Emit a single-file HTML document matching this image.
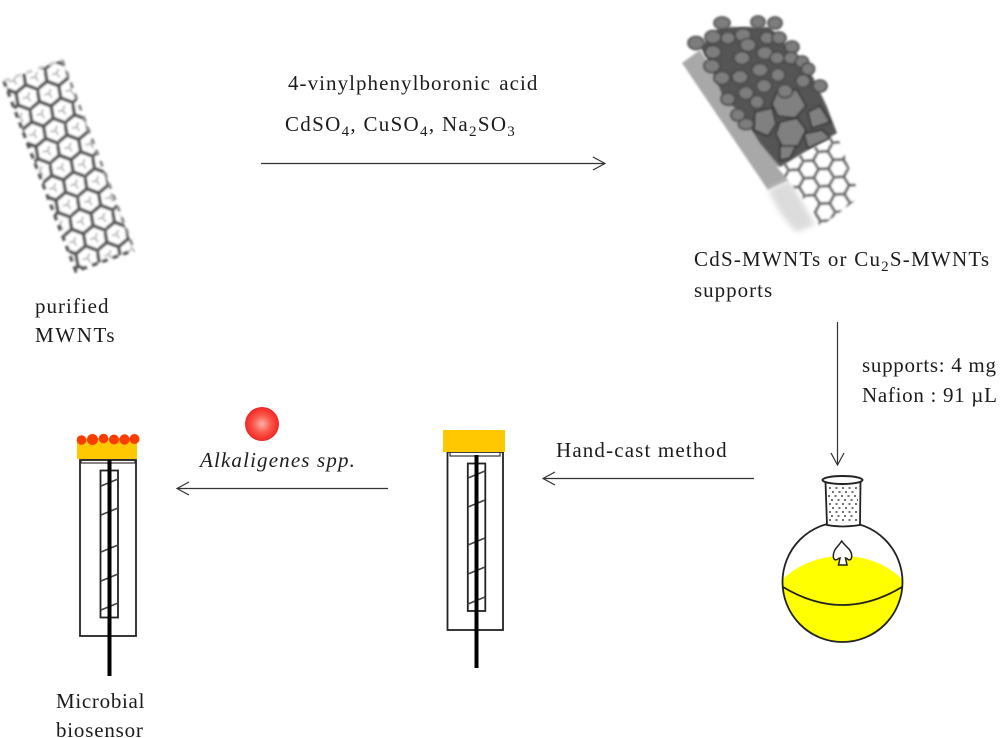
<!DOCTYPE html>
<html><head><meta charset="utf-8"><style>
html,body{margin:0;padding:0;background:#fff;width:1000px;height:738px;overflow:hidden}
svg{display:block}
text{font-family:"Liberation Serif",serif;font-size:21px;fill:#1c1c1c;letter-spacing:1.15px}
</style></head><body>
<svg width="1000" height="738" viewBox="0 0 1000 738" xmlns="http://www.w3.org/2000/svg">
<defs>
<filter id="b1" x="-10%" y="-10%" width="120%" height="120%"><feGaussianBlur stdDeviation="1"/></filter>
<filter id="b2" x="-30%" y="-30%" width="160%" height="160%"><feGaussianBlur stdDeviation="3"/></filter>
<clipPath id="fl"><circle cx="842.5" cy="582" r="60"/></clipPath>
<pattern id="hex" width="37.5" height="21.65" patternUnits="userSpaceOnUse" patternTransform="translate(6,66) rotate(20.5)">
<rect width="37.5" height="21.65" fill="#fff"/>
<path d="M0 10.8 L6.25 0 H18.75 L25 10.8 H37.5 M25 10.8 L18.75 21.65 H6.25 L0 10.8" fill="none" stroke="#555" stroke-width="3.6"/>
<path d="M12.5 6 V10.8 M12.5 10.8 L8.5 13.5 M12.5 10.8 L16.5 13.5 M31.25 -5 V0 M31.25 0 L27 2.8 M31.25 0 L35.5 2.8 M31.25 16.5 V21.65 M31.25 21.65 L27 24.5 M31.25 21.65 L35.5 24.5" fill="none" stroke="#b5b5b5" stroke-width="1.8"/>
</pattern>
<pattern id="hex2" width="30" height="17.3" patternUnits="userSpaceOnUse" patternTransform="translate(780,140) rotate(58)">
<rect width="30" height="17.3" fill="#fff"/>
<path d="M0 8.65 L5 0 H15 L20 8.65 H30 M20 8.65 L15 17.3 H5 L0 8.65" fill="none" stroke="#666" stroke-width="3"/>
</pattern>
<radialGradient id="ball" cx="50%" cy="50%" r="55%">
<stop offset="0" stop-color="#ffb0a8"/><stop offset=".45" stop-color="#fb5a4e"/><stop offset="1" stop-color="#ee1c1c"/>
</radialGradient>
<marker id="ah" viewBox="0 0 14 14" refX="13" refY="7" markerWidth="14" markerHeight="14" markerUnits="userSpaceOnUse" orient="auto">
<path d="M1 0.5 L13 7 L1 13.5" fill="none" stroke="#333" stroke-width="1.2"/>
</marker>
</defs>

<!-- purified tube -->
<g filter="url(#b1)">
<polygon points="4,81 62,60 134,250 76,271" fill="url(#hex)"/>
<path d="M4 81 L76 271 L134 250" fill="none" stroke="#555" stroke-width="3.5" stroke-dasharray="6 5"/>
<path d="M62 60 L134 250" fill="none" stroke="#888" stroke-width="3" stroke-dasharray="6 6"/>
<path d="M4 81 L62 60" fill="none" stroke="#ccc" stroke-width="3" stroke-dasharray="6 6"/>
</g>

<!-- CdS tube -->
<polygon points="682,63 700,50 790,180 768,190" fill="#a8a8a8" filter="url(#b1)"/>
<polygon points="768,190 790,180 815,225 796,232 780,213" fill="#dcdcdc" filter="url(#b2)"/>
<polygon points="777,167 837,135 860,197 820,227 813,210" fill="url(#hex2)" filter="url(#b1)"/>
<polygon points="720,27 770,27 797,57 813,77 827,107 837,133 803,153 780,167 760,143 750,127 737,110 723,97 710,63 700,47" fill="#555" filter="url(#b1)"/>
<g fill="#808080" stroke="#2c2c2c" stroke-width="1.5" filter="url(#b1)">
<polygon points="777,92 797,90 806,106 795,118 778,116 772,104"/>
<polygon points="780,122 797,118 806,130 798,146 782,146 776,134"/>
<polygon points="755,112 772,108 776,124 768,136 754,130"/>
<polygon points="808,112 820,106 830,122 812,128"/>
<polygon points="804,134 822,130 830,138 808,148"/>
<polygon points="780,146 796,146 790,158 780,160"/>
</g>
<g fill="#7d7d7d" stroke="#444" stroke-width="1.6" filter="url(#b1)">
<ellipse cx="696" cy="43" rx="8" ry="6.5"/><ellipse cx="713" cy="37" rx="8" ry="6.5"/><ellipse cx="722" cy="23" rx="8" ry="6"/><ellipse cx="758" cy="22" rx="7" ry="6"/><ellipse cx="775" cy="23" rx="7" ry="6"/>
<ellipse cx="713" cy="52" rx="8" ry="6.5"/><ellipse cx="728" cy="38" rx="7" ry="6"/><ellipse cx="743" cy="35" rx="8" ry="6.5"/><ellipse cx="748" cy="45" rx="8" ry="6.5"/>
<ellipse cx="767" cy="38" rx="7" ry="6"/><ellipse cx="779" cy="38" rx="7" ry="6"/><ellipse cx="792" cy="47" rx="7" ry="6"/><ellipse cx="712" cy="66" rx="8" ry="6.5"/>
<ellipse cx="742" cy="58" rx="8" ry="6.5"/><ellipse cx="765" cy="53" rx="8" ry="6.5"/><ellipse cx="777" cy="58" rx="7" ry="6"/><ellipse cx="791" cy="58" rx="7" ry="6"/><ellipse cx="802" cy="62" rx="6.5" ry="6"/><ellipse cx="808" cy="69" rx="6.5" ry="6"/>
<ellipse cx="722" cy="78" rx="8" ry="6.5"/><ellipse cx="740" cy="77" rx="8" ry="6.5"/><ellipse cx="760" cy="70" rx="8" ry="6.5"/><ellipse cx="778" cy="75" rx="7" ry="6.5"/><ellipse cx="803" cy="81" rx="7" ry="6.5"/><ellipse cx="820" cy="86" rx="7" ry="6"/>
<ellipse cx="764" cy="86" rx="7.5" ry="6.5"/><ellipse cx="785" cy="91" rx="7.5" ry="6.5"/><ellipse cx="746" cy="93" rx="7.5" ry="6.5"/><ellipse cx="728" cy="99" rx="7" ry="6"/><ellipse cx="757" cy="102" rx="7" ry="6.5"/><ellipse cx="738" cy="115" rx="7" ry="6"/><ellipse cx="746" cy="124" rx="7.5" ry="5.5"/>
</g>

<!-- arrows -->
<g stroke="#333" stroke-width="1.2" fill="none">
<line x1="261" y1="163.5" x2="605" y2="163.5" marker-end="url(#ah)"/>
<line x1="837.5" y1="322" x2="837.5" y2="465" marker-end="url(#ah)"/>
<line x1="754" y1="478.5" x2="543" y2="478.5" marker-end="url(#ah)"/>
<line x1="388" y1="488.5" x2="177" y2="488.5" marker-end="url(#ah)"/>
</g>

<!-- flask -->
<circle cx="842.5" cy="582" r="60" fill="#fff"/>
<path clip-path="url(#fl)" d="M780 582 C795 566 818 556 842.5 556 C868 556 890 566 905 582 V650 H780 Z" fill="#ffff00"/>
<circle cx="842.5" cy="582" r="60" fill="none" stroke="#222" stroke-width="1.8"/>
<path d="M783 587 Q842.5 623 902 587" fill="none" stroke="#222" stroke-width="1.8"/>
<path d="M841.7 541 C838 547 833.3 549 833.3 556 C833.3 560 836 561 838.5 558.5 L840 558 L838.5 565 H847 L845.5 558 L847 558.5 C849 561 851.7 560 851.7 556 C851.7 549 845.5 547 841.7 541 Z" fill="#fff" stroke="#222" stroke-width="1.5"/>
<path d="M825.5 482 L827 525 Q842 528 860 525 L860.5 482 Z" fill="#fff" stroke="#222" stroke-width="1.8"/>
<ellipse cx="842.5" cy="480" rx="20" ry="4" fill="#fff" stroke="#222" stroke-width="2"/>
<path stroke="#444" stroke-width="1.6" stroke-dasharray="2 4.5" fill="none" d="M829 488 H857 M832 492 H858 M828 496 H856 M831 500 H858 M829 504 H857 M832 508 H856 M829 512 H858 M831 516 H857 M829 520 H858"/>

<!-- electrode 2 -->
<rect x="447.5" y="452" width="55.5" height="178" fill="#fff" stroke="#222" stroke-width="1.8"/>
<rect x="450" y="452" width="50" height="4" fill="none" stroke="#333" stroke-width="1.2"/>
<rect x="467.8" y="463.5" width="17.5" height="147.5" fill="#fff" stroke="#222" stroke-width="1.8"/>
<path d="M468 478 L485 471 M468 507 L485 500 M468 545 L485 538 M468 574 L485 567 M468 604 L485 597" stroke="#444" stroke-width="1.7"/>
<rect x="474.5" y="455" width="4" height="213" fill="#000"/>
<rect x="443" y="430" width="62" height="22" fill="#ffc800"/>

<!-- electrode 1 -->
<rect x="80" y="460" width="56" height="176" fill="#fff" stroke="#222" stroke-width="1.8"/>
<rect x="81" y="459" width="54" height="4" fill="none" stroke="#333" stroke-width="1.2"/>
<rect x="100.5" y="470.5" width="17.5" height="147" fill="#fff" stroke="#222" stroke-width="1.8"/>
<path d="M101 486 L118 479 M101 515 L118 508 M101 552 L118 545 M101 581 L118 574 M101 610 L118 603" stroke="#444" stroke-width="1.7"/>
<rect x="107.5" y="460" width="4" height="216" fill="#000"/>
<rect x="77" y="438" width="60" height="21" fill="#ffc800"/>
<g fill="#fa3c00">
<circle cx="81.5" cy="440" r="4.8"/><circle cx="92.5" cy="439.5" r="5.5"/><circle cx="103.5" cy="438.5" r="4.8"/><circle cx="114" cy="439.5" r="5"/><circle cx="124.5" cy="439.5" r="5.2"/><circle cx="134.5" cy="439" r="5"/>
</g>

<circle cx="262" cy="424" r="17" fill="url(#ball)"/>

<!-- labels -->
<text x="288" y="90" style="letter-spacing:1.05px">4-vinylphenylboronic  <tspan dx="2">acid</tspan></text>
<text x="285" y="131" style="letter-spacing:1.3px">CdSO<tspan font-size="15" dy="5">4</tspan><tspan dy="-5">, CuSO</tspan><tspan font-size="15" dy="5">4</tspan><tspan dy="-5">, Na</tspan><tspan font-size="15" dy="5">2</tspan><tspan dy="-5">SO</tspan><tspan font-size="15" dy="5">3</tspan></text>
<text x="35" y="313" style="letter-spacing:1px">purified</text>
<text x="35" y="342" style="letter-spacing:1.6px">MWNTs</text>
<text x="694" y="266" style="letter-spacing:1.22px">CdS-MWNTs or Cu<tspan font-size="15" dy="5">2</tspan><tspan dy="-5">S-MWNTs</tspan></text>
<text x="694" y="297" style="letter-spacing:1px">supports</text>
<text x="862" y="372" style="letter-spacing:.7px">supports: 4 mg</text>
<text x="862" y="402" style="letter-spacing:.7px">Nafion : 91 µL</text>
<text x="556" y="457">Hand-cast method</text>
<text x="200" y="467" font-style="italic">Alkaligenes spp.</text>
<text x="56" y="708" style="letter-spacing:.7px">Microbial</text>
<text x="56" y="737" style="letter-spacing:.8px">biosensor</text>
</svg>
</body></html>
